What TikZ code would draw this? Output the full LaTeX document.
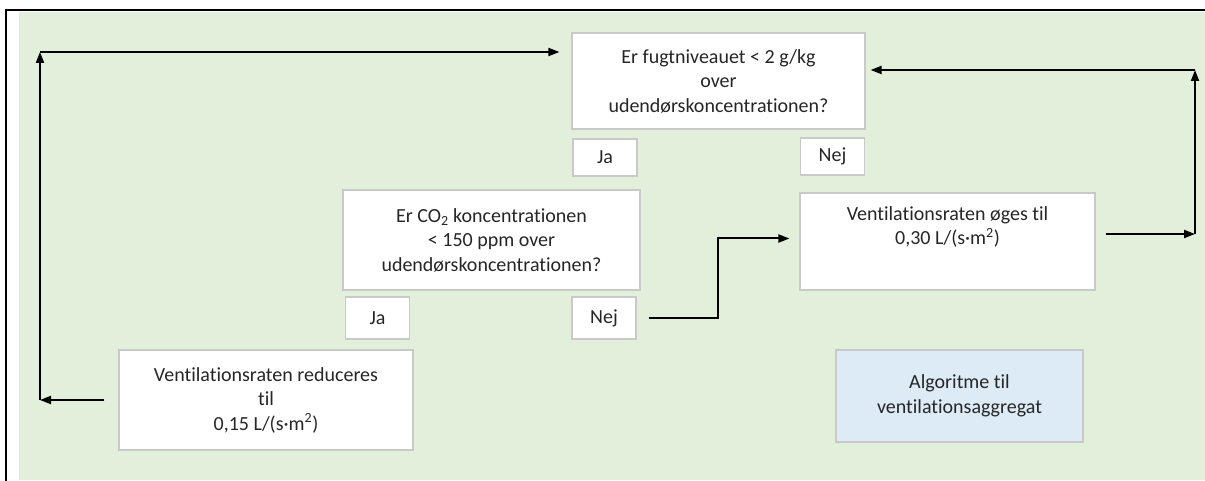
\documentclass[tikz,border=0pt]{standalone}
\usepackage{fontspec}
\setmainfont[RawFeature={-liga,-clig,-calt,-dlig}]{Carlito}
\usetikzlibrary{arrows.meta}
\definecolor{BGgreen}{HTML}{E2EFDA}
\definecolor{BOXgrey}{HTML}{C9C9C9}
\definecolor{ALGblue}{HTML}{DDEBF7}
\definecolor{TXTgrey}{HTML}{262626}

\begin{document}
\begin{tikzpicture}[
    x=1pt, y=-1pt,
    box/.style={draw=BOXgrey, fill=white, line width=1.2pt, inner sep=0pt, align=center, text=TXTgrey, font=\fontsize{20}{24.5}\selectfont},
    answer/.style={box, minimum width=64pt, minimum height=38pt},
    arr/.style={line width=2pt, -{Triangle[length=11pt, width=8pt]}},
    frame/.style={line width=2pt}
  ]
    \useasboundingbox (0,0) rectangle (1205,481);
    \fill[BGgreen] (19,12) rectangle (1205,480);
    \draw[frame] (6,481) -- (6,10) -- (1205,10);

    \node[box, minimum width=293pt, minimum height=96pt] (fugt) at (718.5,81) {Er fugtniveauet < 2 g/kg\\over\\udendørskoncentrationen?};
    \node[answer, minimum height=37pt] (jaF) at (605,157.5) {Ja};
    \node[answer, minimum height=37pt] (nejF) at (832.5,156.5) {Nej};
    \node[box, minimum width=297pt, minimum height=100pt] (co2) at (491.5,240) {Er CO\textsubscript{2} koncentrationen\\< 150 ppm over\\udendørskoncentrationen?};
    \node[answer, minimum height=42pt] (jaC) at (377.5,318) {Ja};
    \node[answer, minimum height=42pt] (nejC) at (604,318) {Nej};
    \node[box, minimum width=294pt, minimum height=100pt] (ned) at (266,400) {Ventilationsraten reduceres\\til\\0,15 L/(s·m\textsuperscript{2})};
    \node[box, minimum width=295pt, minimum height=97pt] (op) at (947.5,241.5) {Ventilationsraten øges til\\0,30 L/(s·m\textsuperscript{2})\\\strut};
    \node[box, fill=ALGblue, minimum width=247pt, minimum height=92pt] (algo) at (959.5,396) {Algoritme til\\ventilationsaggregat};

    \coordinate (vb) at (40,400);
    \coordinate (vt) at (40,52);
    \coordinate (hb) at (1195,234);
    \coordinate (ht) at (1195,70);
    \coordinate (knee) at (718,318);

    \draw[arr] ([xshift=-14pt]ned.west) -- (vb);
    \draw[arr] (vb) -- (vt);
    \draw[arr] (vt) -- ([xshift=-12pt]vt -| fugt.west);
    \draw[arr] ([xshift=10pt]op.east |- hb) -- (hb);
    \draw[arr] (hb) -- (ht);
    \draw[arr] (ht) -- ([xshift=5pt]ht -| fugt.east);
    \draw[arr] ([xshift=12pt]nejC.east) -- (knee) |- ([xshift=-10pt,yshift=3pt]op.west);
\end{tikzpicture}
\end{document}
